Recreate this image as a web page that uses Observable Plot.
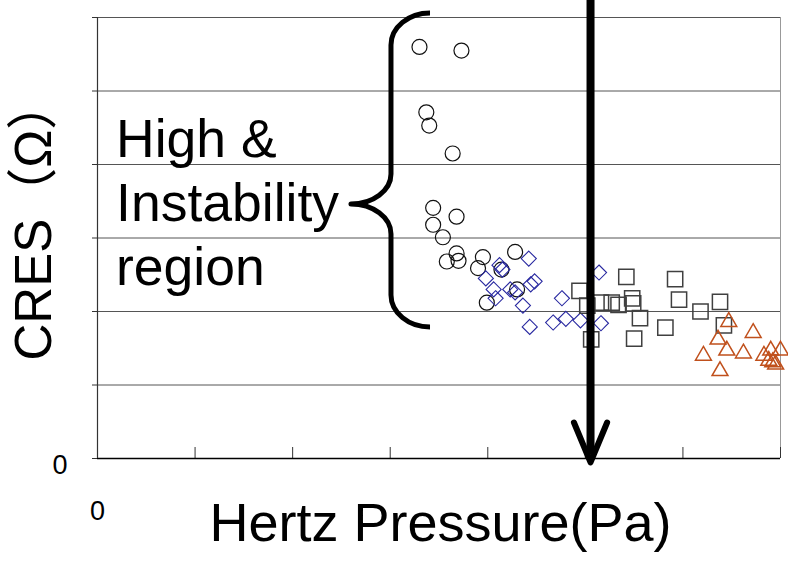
<!DOCTYPE html>
<html><head><meta charset="utf-8">
<script src="https://cdn.jsdelivr.net/npm/d3@7"></script>
<script src="https://cdn.jsdelivr.net/npm/@observablehq/plot@0.6"></script>
<style>html,body{margin:0;padding:0;background:#fff}</style>
</head><body><div id="chart"></div>
<script>
// ---- data ----
const circlesX = [3.30,3.73,3.37,3.40,3.64,3.44,3.68,3.44,3.54,3.68,3.58,3.70,3.95,3.90,4.14,4.28,4.30,3.99];
const circlesY = [5.60,5.55,4.71,4.53,4.15,3.41,3.29,3.18,3.01,2.79,2.68,2.69,2.74,2.59,2.57,2.81,2.30,2.12];
const diamondsX = [4.42,4.12,4.15,3.98,4.06,4.08,4.23,4.28,4.44,4.48,4.36,4.76,4.43,4.67,4.80,4.95,5.16,5.14];
const diamondsY = [2.72,2.63,2.57,2.45,2.30,2.18,2.30,2.26,2.37,2.41,2.08,2.18,1.79,1.85,1.90,1.88,1.84,2.53];
const squaresX = [4.94,5.02,5.42,5.92,5.16,5.27,5.34,5.48,5.49,5.56,5.96,6.18,6.38,6.42,5.82,5.50,5.06];
const squaresY = [2.28,2.08,2.47,2.44,2.12,2.12,2.09,2.18,2.11,1.91,2.16,2.00,2.13,1.81,1.78,1.63,1.62];
const trianglesX = [6.47,6.72,6.36,6.45,6.21,6.62,6.38,6.83,6.90,7.00,6.88,6.92,6.95];
const trianglesY = [1.86,1.71,1.62,1.47,1.40,1.43,1.19,1.40,1.47,1.47,1.33,1.31,1.28];

const xTicks = [0,1,2,3,4,5,6,7];
const yTicks = [0,1,2,3,4,5,6];
const yGrid = [1,2,3,4,5,6];
const xTitle = "Hertz Pressure(Pa)";
const yTitle = "CRES（Ω）";
const zeroLabel = "0";
const regionLabel = "High &\nInstability\nregion";
const regionAt = {x: 0.19, y: 2.367};

// annotation geometry (data units)
const arrowX = 5.053, arrowTop = 6.3, arrowTip = -0.054, arrowHeadTop = 0.49, arrowHalf = 0.17;
const braceLineX = 3.013, braceEndX = 3.413, braceTipX = 2.603;
const braceTop = 6.054, braceTipY = 3.456, braceBottom = 1.782;

const zip = (xs, ys) => xs.map((x, i) => ({x, y: ys[i]}));
const circles = zip(circlesX, circlesY);
const diamonds = zip(diamondsX, diamondsY);
const squares = zip(squaresX, squaresY);
const triangles = zip(trianglesX, trianglesY);

const font = "'Liberation Sans', Arial, 'Noto Sans CJK JP', sans-serif";

const plot = Plot.plot({
  width: 788, height: 562,
  marginLeft: 97, marginRight: 8, marginTop: 17, marginBottom: 104,
  x: {domain: [0, 7]},
  y: {domain: [0, 6]},
  style: {fontFamily: font, background: "white", color: "black"},
  marks: [
    Plot.ruleY(yGrid, {stroke: "#555", strokeWidth: 1}),
    Plot.ruleX([7], {stroke: "#999", strokeWidth: 1}),
    Plot.axisY({ticks: yTicks, tickSize: 5, tickFormat: () => "", label: null, stroke: "#333"}),
    Plot.axisX({ticks: xTicks, tickSize: -11, tickFormat: () => "", label: null, stroke: "#333"}),
    Plot.ruleY([0], {stroke: "#000", strokeWidth: 1.4}),
    Plot.ruleX([0], {stroke: "#333", strokeWidth: 1.2}),
    Plot.dot(circles, {x: "x", y: "y", r: 7.5, stroke: "#111", strokeWidth: 1.2, fill: "none"}),
    Plot.dot(diamonds, {x: "x", y: "y", symbol: "diamond2", r: 6.8, stroke: "#2828a0", strokeWidth: 1.1, fill: "none"}),
    Plot.dot(squares, {x: "x", y: "y", symbol: "square", r: 8.6, stroke: "#404040", strokeWidth: 1.5, fill: "none"}),
    Plot.dot(triangles, {x: "x", y: "y", symbol: "triangle", r: 5.9, stroke: "#c0501c", strokeWidth: 1.5, fill: "none"}),
    Plot.line([{x: arrowX, y: arrowTop}, {x: arrowX, y: 0.05}], {x: "x", y: "y", stroke: "#000", strokeWidth: 8, strokeLinecap: "butt"}),
    Plot.line([{x: arrowX - arrowHalf, y: arrowHeadTop}, {x: arrowX, y: arrowTip}, {x: arrowX + arrowHalf, y: arrowHeadTop}],
      {x: "x", y: "y", stroke: "#000", strokeWidth: 6, strokeLinecap: "round", strokeLinejoin: "round"}),
    Plot.text([regionLabel], {x: regionAt.x, y: regionAt.y, text: d => d, textAnchor: "start", lineAnchor: "bottom",
      lineHeight: 1.19, fontSize: 53.5, fill: "#000"}),
    Plot.text([xTitle], {frameAnchor: "bottom", text: d => d, textAnchor: "middle", lineAnchor: "bottom",
      dx: 1.5, dy: 82, fontSize: 54, fill: "#000"}),
    Plot.text([yTitle], {frameAnchor: "left", text: d => d, rotate: -90, textAnchor: "start", lineAnchor: "bottom",
      dx: -47, dy: 122.5, fontSize: 51, fill: "#000"}),
    Plot.text([zeroLabel], {frameAnchor: "bottom-left", text: d => d, textAnchor: "middle", lineAnchor: "bottom",
      dx: -37.5, dy: 15, fontSize: 27, fill: "#000"}),
    Plot.text([zeroLabel], {frameAnchor: "bottom-left", text: d => d, textAnchor: "middle", lineAnchor: "bottom",
      dx: 0, dy: 61, fontSize: 27, fill: "#000"})
  ]
});

// curly brace drawn through Plot's own scales
const sx = plot.scale("x"), sy = plot.scale("y");
const X = v => sx.apply(v), Y = v => sy.apply(v);
const xl = X(braceLineX), xe = X(braceEndX), xt = X(braceTipX);
const yt = Y(braceTop), ym = Y(braceTipY), yb = Y(braceBottom);
const rx = xe - xl, ry = 32, k = 0.55;
const tr = xl - xt, ty = 30;
const d = [
  `M${xe},${yt}`,
  `C${xe - rx * k},${yt} ${xl},${yt + ry * (1 - k)} ${xl},${yt + ry}`,
  `L${xl},${ym - ty}`,
  `C${xl},${ym - ty * (1 - k)} ${xt + tr * k},${ym} ${xt},${ym}`,
  `C${xt + tr * k},${ym} ${xl},${ym + ty * (1 - k)} ${xl},${ym + ty}`,
  `L${xl},${yb - ry}`,
  `C${xl},${yb - ry * (1 - k)} ${xe - rx * k},${yb} ${xe},${yb}`
].join(" ");
d3.select(plot).append("path").attr("d", d).attr("fill", "none").attr("stroke", "#000")
  .attr("stroke-width", 5).attr("stroke-linecap", "butt").attr("stroke-linejoin", "round");

document.getElementById("chart").appendChild(plot);
</script>
</body></html>
